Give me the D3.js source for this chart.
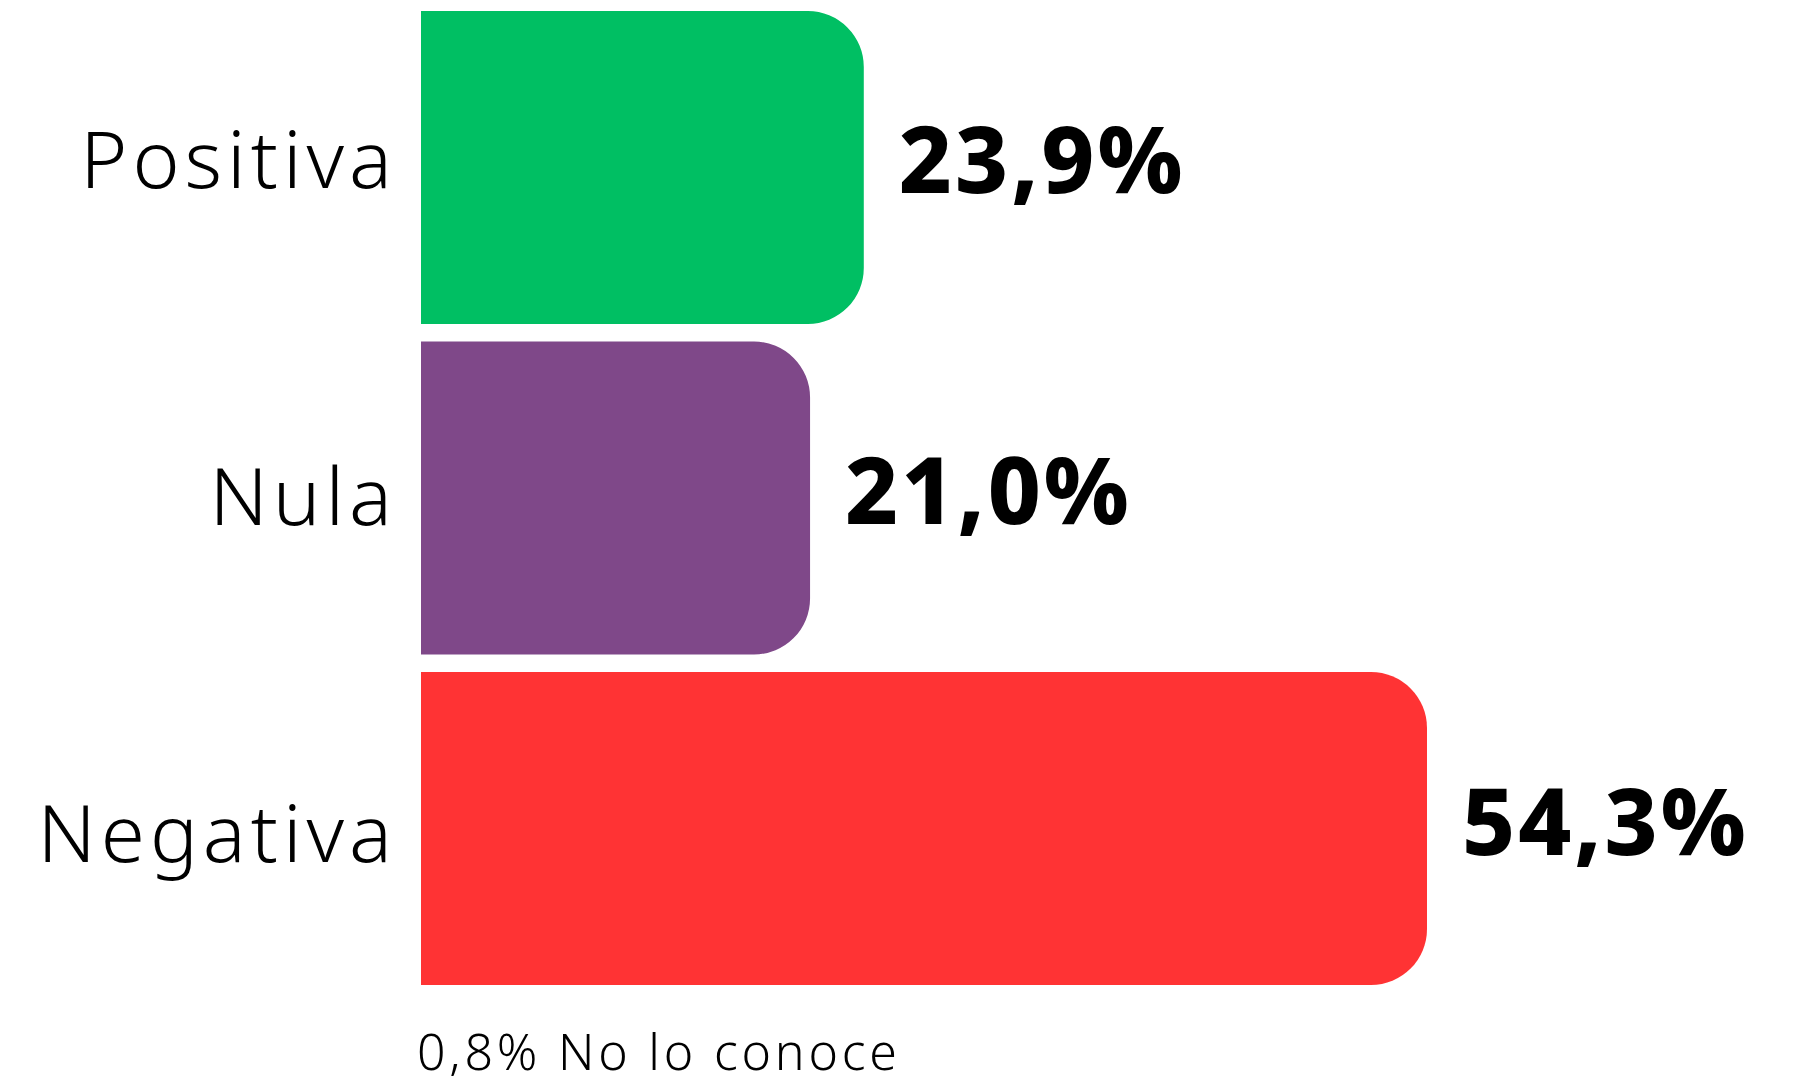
<!DOCTYPE html>
<html>
<head>
<meta charset="utf-8">
<script src="https://cdn.jsdelivr.net/npm/d3@7"></script>
<style>
  body { margin: 0; background: #fff; }
  svg { display: block; }
</style>
</head>
<body>
<svg id="chart" width="1802" height="1085"></svg>
<script>
// chart values
var categories = ["Positiva", "Nula", "Negativa"];
var values = [23.9, 21.0, 54.3];
var valueLabels = ["23,9%", "21,0%", "54,3%"];
var colors = ["#00bf63", "#7f4889", "#ff3334"];
var footnote = "0,8% No lo conoce";

var svg = d3.select("#chart");

// x scale: bar length
var x = d3.scaleLinear()
  .domain([0, d3.max(values)])
  .range([421, 1427]);

// y scale: one band per category
var y = d3.scaleBand()
  .domain(categories)
  .range([11, 985])
  .paddingInner(0.053);

// baseline of the category labels
var yLabel = d3.scalePoint()
  .domain(categories)
  .range([188, 862]);

var rows = categories.map(function(c, i) {
  return { cat: c, value: values[i], label: valueLabels[i], color: colors[i] };
});

// bar with rounded right corners only
function barPath(d) {
  var x0 = x(0), x1 = x(d.value), y0 = y(d.cat), h = y.bandwidth();
  var r = Math.min(56, x1 - x0, h / 2);
  var p = d3.path();
  p.moveTo(x0, y0);
  p.lineTo(x1 - r, y0);
  p.arcTo(x1, y0, x1, y0 + r, r);
  p.lineTo(x1, y0 + h - r);
  p.arcTo(x1, y0 + h, x1 - r, y0 + h, r);
  p.lineTo(x0, y0 + h);
  p.closePath();
  return p.toString();
}

svg.selectAll("path.bar")
  .data(rows)
  .enter().append("path")
  .attr("class", "bar")
  .attr("d", barPath)
  .style("fill", function(d) { return d.color; });

// category labels
svg.selectAll("text.cat")
  .data(rows)
  .enter().append("text")
  .attr("class", "cat")
  .attr("x", x(0) - 24)
  .attr("y", function(d) { return yLabel(d.cat); })
  .attr("text-anchor", "end")
  .style("font-family", "'Noto Sans', 'DejaVu Sans', sans-serif")
  .style("font-weight", 300)
  .style("font-size", "80px")
  .style("letter-spacing", "5px")
  .style("fill", "#000")
  .text(function(d) { return d.cat; });

// value labels
svg.selectAll("text.val")
  .data(rows)
  .enter().append("text")
  .attr("class", "val")
  .attr("x", function(d) { return x(d.value) + 35; })
  .attr("y", function(d) { return y(d.cat) + y.bandwidth() / 2 + 26; })
  .style("font-family", "'Noto Sans', 'DejaVu Sans', sans-serif")
  .style("font-weight", 800)
  .style("font-size", "92px")
  .style("letter-spacing", "3px")
  .style("fill", "#000")
  .text(function(d) { return d.label; });

// footnote
svg.append("text")
  .attr("x", x(0) - 4)
  .attr("y", 1070)
  .style("font-family", "'Noto Sans', 'DejaVu Sans', sans-serif")
  .style("font-weight", 300)
  .style("font-size", "50px")
  .style("letter-spacing", "3.8px")
  .style("fill", "#000")
  .text(footnote);
</script>
</body>
</html>
